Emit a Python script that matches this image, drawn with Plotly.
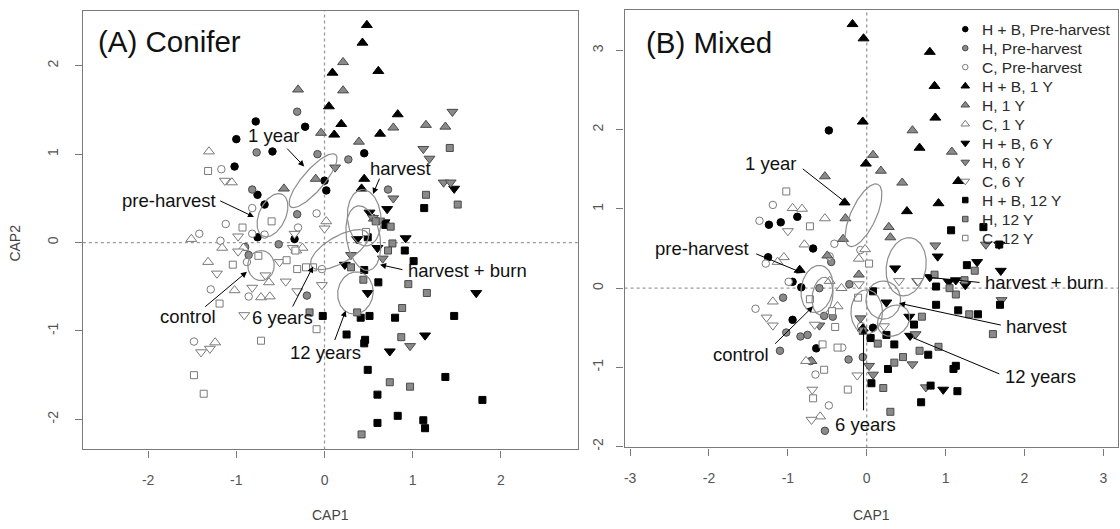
import numpy as np
import plotly.graph_objects as go

# ---------------- DATA ----------------
group_labels = ["H + B, Pre-harvest", "H, Pre-harvest", "C, Pre-harvest",
                "H + B, 1 Y", "H, 1 Y", "C, 1 Y",
                "H + B, 6 Y", "H, 6 Y", "C, 6 Y",
                "H + B, 12 Y", "H, 12 Y", "C, 12 Y"]

conifer_xticks = [-2, -1, 0, 1, 2]
conifer_yticks = [-2, -1, 0, 1, 2]
mixed_xticks = [-3, -2, -1, 0, 1, 2, 3]
mixed_yticks = [-2, -1, 0, 1, 2, 3]

# Panel A: Conifer  (CAP1, CAP2)
conifer_hb_pre = [(-0.78,1.37),(-1.00,1.17),(-0.22,1.31),(-0.59,1.03),(-1.02,0.86),(0.45,1.01),
                  (0.00,0.70),(-0.76,0.54),(-0.68,0.43),(0.02,0.59),(-0.76,0.06),(-0.34,0.04)]
conifer_h_pre = [(-0.31,1.48),(-0.77,1.02),(-0.08,1.00),(0.27,0.94),(-0.82,0.60),(0.72,0.60),
                 (-0.31,0.32),(-0.90,-0.05),(-0.86,-0.14),(-0.52,-0.02),(-0.20,-0.60)]
conifer_c_pre = [(-1.17,0.83),(-0.82,0.39),(-0.09,0.33),(-1.12,0.21),(-1.42,0.10),(-1.18,0.02),
                 (-0.82,0.10),(-0.68,0.09),(-0.30,0.17),(-0.88,-0.22),(-0.03,-0.30),(-1.29,-0.53),
                 (-0.86,-0.61),(-1.48,-1.12)]
conifer_hb_1y = [(0.48,2.46),(0.43,2.26),(0.09,1.92),(0.61,1.94),(0.05,1.54),(0.83,1.45),
                 (0.19,1.34),(0.11,1.22),(0.63,1.23),(0.45,0.72),(0.42,0.61)]
conifer_h_1y = [(-0.30,1.73),(0.21,2.04),(0.21,1.72),(-0.04,1.24),(0.39,1.14),(0.78,1.30),
                (1.15,1.33),(1.37,1.31),(-0.10,0.72),(-0.46,0.61),(0.56,0.27)]
conifer_c_1y = [(-1.31,1.03),(-1.05,0.68),(-1.51,0.04),(-1.16,-0.06),(-0.25,-0.06),(-0.32,-0.09),
                (-1.32,-0.22),(-1.02,-0.54),(-0.72,-0.62),(-0.62,-0.61),(-0.63,-0.45),(-1.24,-1.13),
                (0.02,0.24),(-0.92,-0.06)]
conifer_hb_6y = [(1.47,0.61),(0.71,0.38),(0.51,0.34),(0.68,0.23),(0.92,0.05),(0.37,0.04),
                 (0.60,-0.06),(0.23,-0.25),(0.49,-0.57),(1.72,-0.57),(1.14,-1.05),(0.74,-1.23)]
conifer_h_6y = [(1.45,1.48),(1.12,1.06),(1.19,0.95),(1.35,0.68),(1.43,0.68),(0.78,0.50),
                (0.12,0.85),(0.62,0.25),(0.66,-0.18),(0.30,-0.14),(0.97,-1.17),(0.55,0.28)]
conifer_c_6y = [(-1.13,0.70),(-0.98,0.07),(-0.34,0.10),(-0.36,-0.06),(0.00,0.16),(-0.98,-0.10),
                (-1.22,-0.35),(-0.82,-0.51),(-0.91,-0.82),(-1.40,-1.24),(-1.30,-1.20),(-0.51,-0.22),
                (-0.44,-0.44),(-0.31,-0.55),(-0.03,-0.48),(-0.67,-0.37)]
conifer_hb_12y = [(1.13,0.39),(0.91,-0.09),(1.01,-0.21),(0.45,-0.31),(0.61,-0.45),(-0.02,-0.83),
                  (0.41,-0.85),(0.51,-0.83),(0.80,-0.85),(1.47,-0.83),(0.25,-1.04),(0.46,-1.10),
                  (0.45,-1.14),(0.49,-1.44),(1.37,-1.52),(1.79,-1.78),(0.60,-1.72),(0.83,-1.96),
                  (0.60,-2.04),(1.12,-2.01),(1.14,-2.10),(0.49,0.06),(0.69,0.20)]
conifer_h_12y = [(1.42,1.07),(1.15,0.54),(1.51,0.43),(0.75,0.18),(0.77,-0.01),(0.72,-0.09),
                 (0.95,-0.47),(1.16,-0.57),(0.88,-0.74),(0.87,-1.07),(0.74,-1.58),(0.97,-1.63),
                 (0.42,-2.17),(0.44,-0.42),(0.37,-0.79),(-0.17,-0.79),(0.58,0.24),(0.30,-0.28)]
conifer_c_12y = [(-1.32,0.81),(-0.60,0.24),(-0.93,0.17),(-1.04,-0.25),(-0.75,-0.15),(-0.43,-0.20),
                 (-0.33,-0.09),(-0.31,-0.30),(-0.21,-0.28),(-1.19,-0.69),(-0.09,-0.98),(-0.72,-1.11),
                 (-1.48,-1.50),(-1.37,-1.71),(0.47,0.12),(-0.13,-0.28)]

# Panel B: Mixed
mixed_hb_pre = [(-0.48,1.99),(-1.24,0.80),(-1.09,0.83),(-0.88,0.90),(-0.68,0.50),(-1.25,0.39),
                (-0.94,0.08),(-0.83,0.01),(-0.94,-0.40),(-0.64,-0.76),(0.08,-0.50)]
mixed_h_pre = [(-1.06,-0.12),(-0.60,0.00),(-1.02,-0.56),(-0.84,-0.61),(-0.75,-0.59),(-1.10,-0.79),
               (-0.71,-0.92),(-0.23,-0.90),(-0.53,-1.80),(-0.43,-0.36),(-0.22,0.05),(-0.05,-0.87),
               (-0.54,-0.35),(-0.45,0.33)]
mixed_c_pre = [(-1.19,1.05),(-1.36,0.85),(-0.41,0.56),(-1.28,0.31),(-1.41,-0.26),(-0.65,-1.09),
               (-0.48,-1.48),(-0.31,-0.75),(-0.99,0.08),(-0.07,-0.48),(-0.08,0.48),(-0.47,0.40)]
mixed_hb_1y = [(-0.18,3.33),(-0.04,3.15),(0.80,2.98),(0.86,2.55),(0.87,2.15),(-0.05,2.10),
               (0.67,1.77),(-0.01,1.57),(1.16,1.35),(0.91,1.07),(0.51,0.97),(-0.28,1.08),
               (-0.85,0.23),(-0.05,-0.51)]
mixed_h_1y = [(0.58,1.99),(1.08,1.72),(0.08,1.68),(0.18,1.48),(-0.53,1.41),(0.45,1.33),
              (-0.27,0.88),(-0.30,0.62),(0.28,0.77),(0.30,0.64),(-0.10,0.17),(-0.50,0.41),(-0.70,-0.92)]
mixed_c_1y = [(-0.94,1.01),(-0.82,1.00),(-0.53,0.88),(-0.79,0.55),(-1.05,0.39),(-1.13,0.33),
              (-0.10,0.37),(-0.02,0.49),(-1.19,-0.17),(-0.32,0.00),(-0.37,-0.23),(-0.47,0.09),
              (-0.59,-1.62),(-0.77,-0.92)]
mixed_hb_6y = [(0.36,0.25),(0.25,-0.18),(0.90,0.40),(1.04,0.08),(1.13,0.10),(1.25,0.04),
               (1.40,0.33),(1.70,0.22),(1.68,0.55),(0.54,-0.36),(0.55,-0.60),(0.97,-1.28),(0.80,0.14)]
mixed_h_6y = [(0.87,0.54),(1.51,0.55),(1.71,-0.15),(0.58,-0.96),(0.75,-1.25),(0.08,-1.09),
              (0.03,-0.98),(0.64,0.09),(-0.60,-0.47),(-0.08,-0.38),(0.62,-0.58)]
mixed_c_6y = [(-1.00,0.72),(-1.27,-0.37),(-1.19,-0.47),(-0.12,-1.10),(-0.69,-1.28),(-0.70,-1.66),
              (-0.66,-0.46),(0.41,0.09),(0.65,0.09),(0.22,-0.48),(-0.10,0.05)]
mixed_hb_12y = [(1.07,0.73),(1.48,0.77),(1.68,0.55),(1.27,0.29),(0.88,0.02),(0.88,-0.21),
                (1.16,-0.28),(1.41,-0.33),(1.69,-0.21),(0.60,-0.46),(0.25,-0.59),(0.35,-0.71),
                (0.78,-0.84),(1.13,-0.98),(1.10,-1.02),(0.81,-1.23),(1.15,-1.30),(0.69,-1.44),
                (0.27,-1.02),(0.06,-1.20),(0.08,-0.04),(0.05,-0.63)]
mixed_h_12y = [(1.37,0.22),(1.13,-0.08),(1.05,0.00),(1.24,0.10),(1.30,-0.33),(0.70,-0.36),
               (1.60,-0.58),(0.91,-0.74),(0.67,-0.79),(0.46,-0.87),(0.35,-0.94),(0.21,-1.26),
               (0.30,-1.56),(0.14,-0.70),(0.86,0.17),(-0.05,-0.54)]
mixed_c_12y = [(-1.02,1.22),(-0.72,0.78),(-0.72,-0.14),(-0.40,-0.49),(-0.37,-0.75),(-0.56,-0.71),
               (-0.54,-1.03),(-0.24,-1.28),(-0.68,-1.39),(-0.11,-0.12),(-0.44,-0.29),(0.03,0.31)]

conifer_groups = [conifer_hb_pre, conifer_h_pre, conifer_c_pre, conifer_hb_1y, conifer_h_1y, conifer_c_1y,
                  conifer_hb_6y, conifer_h_6y, conifer_c_6y, conifer_hb_12y, conifer_h_12y, conifer_c_12y]
mixed_groups = [mixed_hb_pre, mixed_h_pre, mixed_c_pre, mixed_hb_1y, mixed_h_1y, mixed_c_1y,
                mixed_hb_6y, mixed_h_6y, mixed_c_6y, mixed_hb_12y, mixed_h_12y, mixed_c_12y]

# Group ellipses: (centre x, centre y, semi-major, semi-minor, angle deg)
conifer_ellipses = [(-0.13, 0.70, 0.39, 0.12, 49), (-0.59, 0.31, 0.26, 0.15, 65),
                    (-0.72, -0.26, 0.17, 0.15, 90), (0.17, -0.08, 0.37, 0.15, 30),
                    (0.45, 0.28, 0.32, 0.19, 95), (0.44, 0.05, 0.37, 0.19, 100),
                    (0.35, -0.57, 0.24, 0.20, 80)]
mixed_ellipses = [(-0.04, 0.92, 0.43, 0.16, 65), (-0.63, -0.01, 0.30, 0.20, 80),
                  (-0.56, -0.10, 0.24, 0.13, 82), (0.00, -0.30, 0.28, 0.20, 90),
                  (0.21, -0.15, 0.24, 0.22, 90), (0.50, 0.27, 0.37, 0.25, 80),
                  (0.34, -0.41, 0.22, 0.18, 40)]

# Labels: (text, text x, text y, arrow tail x, tail y, arrow head x, head y)
conifer_labels = [("1 year", -0.58, 1.21, -0.44, 1.08, -0.23, 0.86),
                  ("pre-harvest", -1.76, 0.48, -1.20, 0.48, -0.80, 0.29),
                  ("harvest", 0.86, 0.84, 0.63, 0.74, 0.55, 0.55),
                  ("harvest + burn", 1.62, -0.32, 0.90, -0.31, 0.63, -0.25),
                  ("control", -1.55, -0.84, -1.37, -0.74, -0.88, -0.33),
                  ("6 years", -0.48, -0.85, -0.37, -0.74, -0.13, -0.27),
                  ("12 years", 0.01, -1.24, 0.11, -1.12, 0.24, -0.77)]
mixed_labels = [("1 year", -1.22, 1.57, -0.83, 1.52, -0.24, 1.06),
                ("pre-harvest", -2.09, 0.50, -1.42, 0.44, -0.81, 0.19),
                ("control", -1.59, -0.84, -1.18, -0.72, -0.68, -0.23),
                ("6 years", -0.02, -1.72, -0.04, -1.56, -0.04, -0.50),
                ("harvest + burn", 2.26, 0.07, 1.45, 0.07, 0.75, 0.14),
                ("harvest", 2.15, -0.48, 1.72, -0.47, 0.41, -0.19),
                ("12 years", 2.20, -1.12, 1.70, -1.09, 0.50, -0.59)]

# ---------------- STYLE ----------------
W, H = 1120, 529
FONT = "Liberation Sans, Arial, Helvetica, sans-serif"
symbols = ["circle"] * 3 + ["triangle-up"] * 3 + ["triangle-down"] * 3 + ["square"] * 3
fills = ["#000000", "#8a8a8a", "#ffffff"] * 4
edges = ["#000000", "#4a4a4a", "#7a7a7a"] * 4
size_map = {"circle": 7.5, "triangle-up": 9.5, "triangle-down": 9.5, "square": 7}
leg_size_map = {"circle": 5.5, "triangle-up": 7.5, "triangle-down": 7.5, "square": 5.5}

fig = go.Figure()


def ellipse_xy(cx, cy, a, b, ang):
    t = np.linspace(0, 2 * np.pi, 120)
    th = np.deg2rad(ang)
    x = cx + a * np.cos(t) * np.cos(th) - b * np.sin(t) * np.sin(th)
    y = cy + a * np.cos(t) * np.sin(th) + b * np.sin(t) * np.cos(th)
    return x, y


for groups, ells, xa, ya in [(conifer_groups, conifer_ellipses, "x", "y"),
                             (mixed_groups, mixed_ellipses, "x2", "y2")]:
    for i, pts in enumerate(groups):
        fig.add_trace(go.Scatter(
            x=[p[0] for p in pts], y=[p[1] for p in pts], mode="markers",
            xaxis=xa, yaxis=ya, showlegend=False, hoverinfo="skip",
            marker=dict(symbol=symbols[i], size=size_map[symbols[i]], color=fills[i],
                        line=dict(color=edges[i], width=1))))
    for e in ells:
        ex, ey = ellipse_xy(*e)
        fig.add_trace(go.Scatter(x=ex, y=ey, mode="lines", xaxis=xa, yaxis=ya,
                                 showlegend=False, hoverinfo="skip",
                                 line=dict(color="#8c8c8c", width=1.2)))

# manual legend in panel B (pixel overlay axes)
leg_x_marker, leg_x_text, leg_y0, leg_dy = 966, 981, 29.3, 19.1
for i, lab in enumerate(group_labels):
    yy = leg_y0 + i * leg_dy
    fig.add_trace(go.Scatter(x=[leg_x_marker], y=[yy], mode="markers", xaxis="x3", yaxis="y3",
                             showlegend=False, hoverinfo="skip",
                             marker=dict(symbol=symbols[i], size=leg_size_map[symbols[i]],
                                         color=fills[i], line=dict(color=edges[i], width=1))))

annotations = []
for i, lab in enumerate(group_labels):
    yy = leg_y0 + i * leg_dy
    annotations.append(dict(x=leg_x_text, y=yy, xref="x3", yref="y3", text=lab, showarrow=False,
                            xanchor="left", yanchor="middle",
                            font=dict(family=FONT, size=15.5, color="#2a2a2a")))

for labels, xr, yr in [(conifer_labels, "x", "y"), (mixed_labels, "x2", "y2")]:
    for txt, tx, ty, ax, ay, hx, hy in labels:
        annotations.append(dict(x=tx, y=ty, xref=xr, yref=yr, text=txt, showarrow=False,
                                xanchor="center", yanchor="middle",
                                font=dict(family=FONT, size=18.5, color="#111111")))
        annotations.append(dict(x=hx, y=hy, ax=ax, ay=ay, xref=xr, yref=yr, axref=xr, ayref=yr,
                                text="", showarrow=True, arrowhead=2, arrowsize=1.2,
                                arrowwidth=1, arrowcolor="#000000", standoff=0, startstandoff=0))

# panel titles
annotations.append(dict(x=95, y=42, xref="x3", yref="y3", text="(A) Conifer", showarrow=False,
                        xanchor="left", yanchor="middle", font=dict(family=FONT, size=29.5, color="#111111")))
annotations.append(dict(x=644, y=43, xref="x3", yref="y3", text="(B) Mixed", showarrow=False,
                        xanchor="left", yanchor="middle", font=dict(family=FONT, size=29.5, color="#111111")))
# axis titles
for cx in (330, 872):
    annotations.append(dict(x=cx, y=518, xref="x3", yref="y3", text="CAP1", showarrow=False,
                            xanchor="center", yanchor="middle", font=dict(family=FONT, size=14, color="#444444")))
annotations.append(dict(x=14, y=244, xref="x3", yref="y3", text="CAP2", showarrow=False, textangle=-90,
                        xanchor="center", yanchor="middle", font=dict(family=FONT, size=14, color="#444444")))

shapes = []
for xr, yr in [("x", "y"), ("x2", "y2")]:
    shapes.append(dict(type="line", xref=xr, yref=yr + " domain", x0=0, x1=0, y0=0, y1=1, layer="below",
                       line=dict(color="#9a9a9a", width=1.3, dash="dot")))
    shapes.append(dict(type="line", xref=xr + " domain", yref=yr, x0=0, x1=1, y0=0, y1=0, layer="below",
                       line=dict(color="#9a9a9a", width=1.3, dash="dot")))

axis_common = dict(showgrid=False, zeroline=False, showline=True, mirror=True, linecolor="#7a7a7a",
                   linewidth=1.2, ticks="outside", ticklen=7, tickwidth=1, tickcolor="#7a7a7a",
                   tickfont=dict(family=FONT, size=14, color="#555555"))


def tick_text(vals):
    return [str(v) for v in vals]


fig.update_layout(
    width=W, height=H, margin=dict(l=0, r=0, t=0, b=0),
    paper_bgcolor="white", plot_bgcolor="rgba(0,0,0,0)", showlegend=False,
    xaxis=dict(domain=[82 / W, 577.7 / W], range=[-2.74, 2.87], anchor="y",
               tickvals=conifer_xticks, ticktext=tick_text(conifer_xticks), ticklabelstandoff=11, **axis_common),
    yaxis=dict(domain=[(H - 452) / H, (H - 11) / H], range=[-2.34, 2.62], anchor="x",
               tickvals=conifer_yticks, ticktext=tick_text(conifer_yticks), tickangle=-90,
               ticklabelstandoff=11, **axis_common),
    xaxis2=dict(domain=[624.7 / W, 1119.3 / W], range=[-3.07, 3.19], anchor="y2",
                tickvals=mixed_xticks, ticktext=tick_text(mixed_xticks), ticklabelstandoff=11, **axis_common),
    yaxis2=dict(domain=[(H - 450) / H, (H - 10) / H], range=[-2.01, 3.51], anchor="x2",
                tickvals=mixed_yticks, ticktext=tick_text(mixed_yticks), tickangle=-90,
                ticklabelstandoff=8, **axis_common),
    xaxis3=dict(domain=[0, 1], range=[0, W], anchor="y3", visible=False, fixedrange=True),
    yaxis3=dict(domain=[0, 1], range=[H, 0], anchor="x3", visible=False, fixedrange=True),
    annotations=annotations, shapes=shapes,
)

fig.write_html("out.html")
